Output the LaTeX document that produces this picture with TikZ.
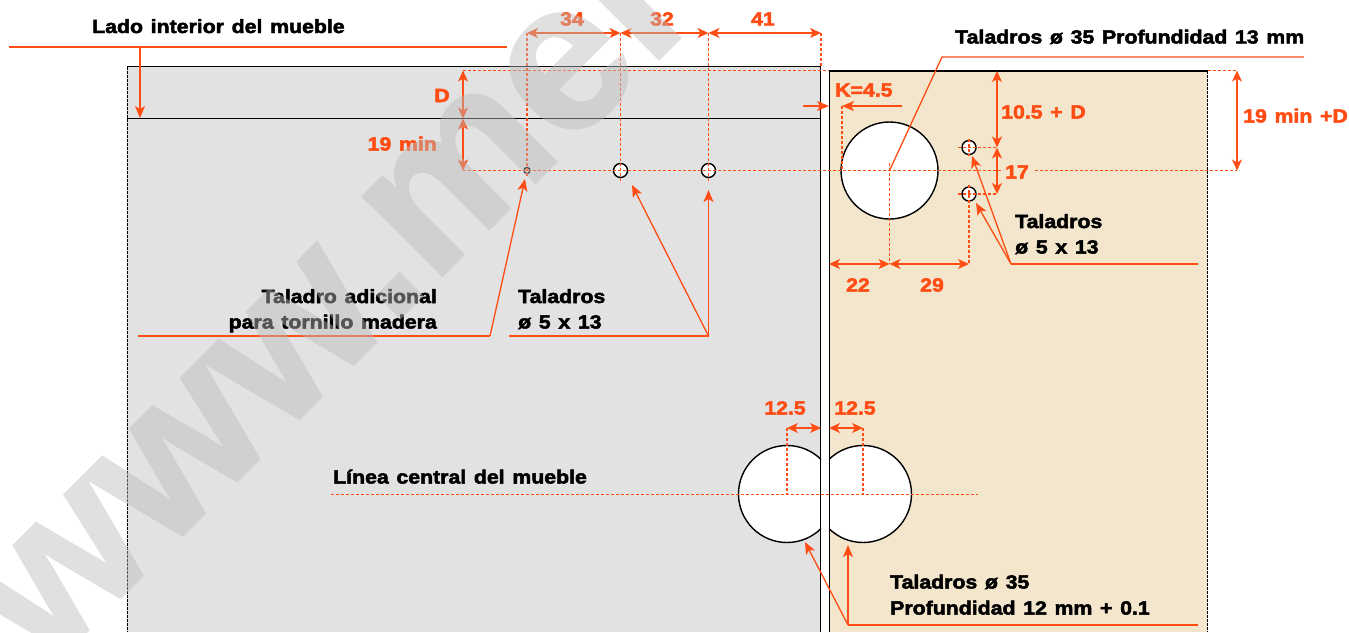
\documentclass[tikz,border=0pt]{standalone}
\usepackage{fontspec}
\usetikzlibrary{arrows.meta}
\setmainfont{Liberation Sans}
\newfontfamily\labfont[WordSpace=1.3,BoldFeatures={FakeBold=2.6,FakeStretch=1.12}]{Liberation Sans}
\newfontfamily\markfont[BoldFeatures={FakeBold=1.3}]{Liberation Sans}
\definecolor{ora}{HTML}{FF4D14}
\definecolor{pgray}{HTML}{E2E2E2}
\definecolor{ptan}{HTML}{F3E6CC}
\tikzset{
  lbl/.style={inner sep=0pt,font=\labfont\bfseries\fontsize{19}{22}\selectfont},
  blk/.style={lbl,text=black},
  orn/.style={lbl,text=ora},
  wall/.style={draw=black,line width=1.5pt},
  edgeline/.style={draw=black,line width=1.5pt,dash pattern=on 2.5pt off 1.5pt},
  lead/.style={draw=ora,line width=1.3pt,line join=miter},
  leadarrow/.style={lead,-{Stealth[length=12pt,width=10pt,inset=3pt]}},
  dim/.style={draw=ora,line width=1.3pt,{Stealth[length=11pt,width=10pt,inset=3pt]}-{Stealth[length=11pt,width=10pt,inset=3pt]}},
  guide/.style={draw=ora,line width=1.2pt,dash pattern=on 3pt off 2pt},
  hole/.style={circle,draw=black,line width=1.4pt,fill=white,inner sep=0pt},
  shole/.style={hole,minimum size=14pt},
  bigcirc/.style={draw=black,line width=1.4pt,fill=white}
}
\begin{document}
\begin{tikzpicture}[x=1pt,y=-1pt]
\useasboundingbox (0,0) rectangle (1349,632);
\clip (0,0) rectangle (1349,632);
% panels
\fill[pgray] (127,67) rectangle (821,632);
\fill[ptan] (829,71) rectangle (1207.5,632);
% large holes
\begin{scope}
\clip (700,400) rectangle (821,600);
\draw[bigcirc] (787,494) circle[radius=48.5];
\end{scope}
\begin{scope}
\clip (829,400) rectangle (950,600);
\draw[bigcirc] (863,494) circle[radius=48.5];
\end{scope}
\draw[bigcirc] (889.5,170.5) circle[radius=48.5];
% panel edges
\draw[wall] (127,66.7) -- (820.7,66.7) -- (820.7,632);
\draw[wall] (127,118.6) -- (820.7,118.6);
\draw[wall] (829.3,632) -- (829.3,71.2) -- (1207.5,71.2);
\draw[edgeline] (127.3,67) -- (127.3,632);
\draw[edgeline] (1207.5,71) -- (1207.5,632);
% coordinates
\coordinate (topL) at (463,70.6);
\coordinate (midL) at (463,118.5);
\coordinate (cenL) at (463,170.5);
\coordinate (topR) at (1237,70.6);
\coordinate (cenR) at (1237,170.5);
\coordinate (d0) at (527,33);
\coordinate (d1) at (620.5,33);
\coordinate (d2) at (708.5,33);
\coordinate (d3) at (821,33);
\coordinate (c0) at (821,67);
\coordinate (big) at (889.5,170.5);
\coordinate (panL) at (829,264);
\coordinate (bigB) at (889.5,264);
\coordinate (sB) at (969,264);
\coordinate (r1) at (997,147.5);
\coordinate (r2) at (997,194);
\coordinate (rT) at (997,71);
\coordinate (k0) at (803,106);
\coordinate (k1) at (829,106);
\coordinate (k2) at (842,106);
\coordinate (k3) at (902,106);
\coordinate (kc) at (842,170.5);
% small holes
\node[hole,minimum size=6pt] (h0) at (527,170.5) {};
\node[shole] (h1) at (620.5,170.5) {};
\node[shole] (h2) at (708.5,170.5) {};
\node[shole] (h3) at (969,147.5) {};
\node[shole] (h4) at (969,194) {};
% texts
\node[blk,anchor=base west] (tLado) at (92,33) {Lado interior del mueble};
\node[blk,anchor=base west] (tT35) at (955,43.5) {Taladros ø 35 Profundidad 13 mm};
\node[blk,anchor=base east] (tAd1) at (437,303) {Taladro adicional};
\node[blk,anchor=base east] (tAd2) at (437,328.5) {para tornillo madera};
\node[blk,anchor=base west] (tT1) at (518,303) {Taladros};
\node[blk,anchor=base west] (tT2) at (518,328.5) {ø 5 x 13};
\node[blk,anchor=base west] (tT3) at (1015,228) {Taladros};
\node[blk,anchor=base west] (tT4) at (1015,253.5) {ø 5 x 13};
\node[blk,anchor=base west] (tLin) at (333,483.5) {Línea central del mueble};
\node[blk,anchor=base west] (tP1) at (890,588.5) {Taladros ø 35};
\node[blk,anchor=base west] (tP2) at (890,614.5) {Profundidad 12 mm + 0.1};
\node[orn,anchor=base] (o34) at (572,25.5) {34};
\node[orn,anchor=base] (o32) at (662,25.5) {32};
\node[orn,anchor=base] (o41) at (763,25.5) {41};
\node[orn,anchor=base] (oD) at (442,102) {D};
\node[orn,anchor=base east] (o19) at (437,150.5) {19 min};
\node[orn,anchor=base west] (oK) at (835,96.5) {K=4.5};
\node[orn,anchor=base west] (o105) at (1001,118.5) {10.5 + D};
\node[orn,anchor=base west] (o19D) at (1243,122.5) {19 min +D};
\node[orn,anchor=base] (o17) at (1017,178.5) {17};
\node[orn,anchor=base] (o22) at (858,291.5) {22};
\node[orn,anchor=base] (o29) at (932,291.5) {29};
\node[orn,anchor=base] (o125a) at (785,414.5) {12.5};
\node[orn,anchor=base] (o125b) at (855,414.5) {12.5};
% guides
\draw[guide] (topL) -- (829,70.6);
\draw[guide] (1207.5,70.6) -- (topR);
\draw[guide] (cenL) -- (1003,170.5);
\draw[guide] (1035,170.5) -- (cenR);
\draw[guide] (d0) -- (527,176);
\draw[guide] (d1) -- (620.5,183);
\draw[guide] (d2) -- (708.5,183);
\draw[guide] (d3) -- (c0);
\draw[guide] (k2) -- (kc);
\draw[guide] (889.5,163) -- (bigB);
\draw[guide] (969,139) -- (969,156);
\draw[guide] (969,185) -- (sB);
\draw[guide] (958,147.5) -- (r1);
\draw[guide] (958,194) -- (r2);
\draw[guide] (331,494.5) -- (978,494.5);
\draw[guide] (787,428) -- (787,494);
\draw[guide] (863,428) -- (863,494);
% dimensions
\draw[dim] (d0) -- (d1);
\draw[dim] (d1) -- (d2);
\draw[dim] (d2) -- (d3);
\draw[dim] (topL) -- (midL);
\draw[dim] (midL) -- (cenL);
\draw[dim] (rT) -- (r1);
\draw[dim] (r1) -- (r2);
\draw[dim] (topR) -- (cenR);
\draw[dim] (panL) -- (bigB);
\draw[dim] (bigB) -- (sB);
\draw[dim] (787,428) -- (821,428);
\draw[dim] (829,428) -- (863,428);
\draw[leadarrow] (k0) -- (k1);
\draw[leadarrow] (k3) -- (k2);
% leaders
\draw[lead] (9,47) -- (507,47);
\draw[leadarrow] (140,47) -- (140,118);
\draw[lead] (1304,57) -- (942,57) -- (big);
\draw[lead] (138,336) -- (490,336);
\draw[leadarrow] (490,336) -- (525,179);
\draw[lead] (509,336) -- (708.5,336);
\draw[leadarrow] (708.5,336) -- (708.5,190);
\draw[leadarrow] (708.5,336) -- (632,185);
\draw[lead] (1198,264) -- (1011,264);
\draw[leadarrow] (1011,264) -- (972,156);
\draw[leadarrow] (1011,264) -- (976,203);
\draw[lead] (1198,625) -- (848,625);
\draw[leadarrow] (848,625) -- (848,545);
\draw[leadarrow] (848,625) -- (805,542);
% watermark
\begin{scope}[transparency group,opacity=.45]
\node[anchor=base west,inner sep=0pt,rotate=45,text=black!26.7,font=\markfont\bfseries\fontsize{212}{212}\selectfont] (mark) at (46,672) {www.mel};
\end{scope}
\end{tikzpicture}
\end{document}
